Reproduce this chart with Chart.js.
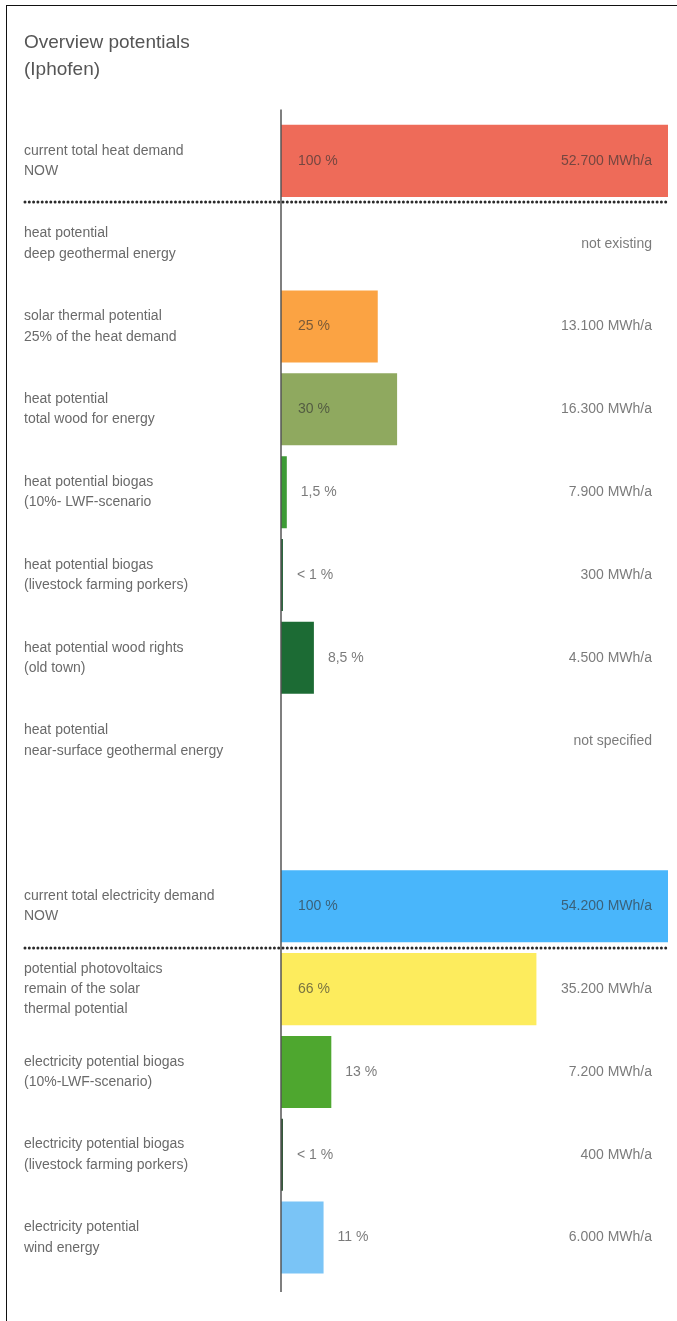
<!DOCTYPE html>
<html>
<head>
<meta charset="utf-8">
<title>Overview potentials (Iphofen)</title>
<script src="https://cdn.jsdelivr.net/npm/chart.js@4.4.1/dist/chart.umd.min.js"></script>
<style>
  html,body{margin:0;padding:0;background:#fff;overflow:hidden;}
  .frame{position:absolute;left:6px;top:5px;width:700px;height:1340px;border:1.5px solid #111;box-sizing:border-box;}
  .wrap{position:absolute;left:0;top:0;width:677px;height:1321px;}
</style>
</head>
<body>
<div class="frame"></div>
<div class="wrap"><canvas id="potChart"></canvas></div>
<script>
// rows, top to bottom ('' = gap between the heat and electricity blocks)
const categories = [
  ['current total heat demand','NOW'],
  ['heat potential','deep geothermal energy'],
  ['solar thermal potential','25% of the heat demand'],
  ['heat potential','total wood for energy'],
  ['heat potential biogas','(10%- LWF-scenario'],
  ['heat potential biogas','(livestock farming porkers)'],
  ['heat potential wood rights','(old town)'],
  ['heat potential','near-surface geothermal energy'],
  '',
  ['current total electricity demand','NOW'],
  ['potential photovoltaics','remain of the solar','thermal potential'],
  ['electricity potential biogas','(10%-LWF-scenario)'],
  ['electricity potential biogas','(livestock farming porkers)'],
  ['electricity potential','wind energy']
];
const shares = [100, null, 25, 30, 1.5, 0.5, 8.5, null, null, 100, 66, 13, 0.5, 11];
const shareLabels = ['100 %','','25 %','30 %','1,5 %','< 1 %','8,5 %','','','100 %','66 %','13 %','< 1 %','11 %'];
const amountLabels = ['52.700 MWh/a','not existing','13.100 MWh/a','16.300 MWh/a','7.900 MWh/a','300 MWh/a',
  '4.500 MWh/a','not specified','','54.200 MWh/a','35.200 MWh/a','7.200 MWh/a','400 MWh/a','6.000 MWh/a'];
const dividerAfter = [0, 9];

const barColors = ['#ee6b59','#fff','#fba343','#8fa95f','#3d9b35','#1f5f33','#1c6b34','#fff','#fff',
  '#49b6fb','#fdec5d','#4ea72f','#274f2e','#7ac4f6'];

const FONT = '"Liberation Sans", Arial, Helvetica, sans-serif';

const extras = {
  id:'extras',
  afterDatasetsDraw(chart){
    const {ctx, chartArea, scales:{x, y}} = chart;
    const x0 = x.getPixelForValue(0);
    ctx.save();
    // axis line
    ctx.strokeStyle = '#555';
    ctx.lineWidth = 1.5;
    ctx.beginPath();
    ctx.moveTo(x0, chartArea.top - 10);
    ctx.lineTo(x0, chartArea.bottom + 13);
    ctx.stroke();
    // dotted separators
    ctx.strokeStyle = '#2a2a2a';
    ctx.lineWidth = 3;
    ctx.lineCap = 'round';
    ctx.setLineDash([0, 4.3]);
    dividerAfter.forEach(i=>{
      const yy = Math.round((y.getPixelForValue(i) + y.getPixelForValue(i+1)) / 2);
      ctx.beginPath();
      ctx.moveTo(25, yy);
      ctx.lineTo(chartArea.right, yy);
      ctx.stroke();
    });
    ctx.setLineDash([]);
    // value texts
    ctx.font = '14px ' + FONT;
    ctx.fillStyle = 'rgba(50,50,50,0.65)';
    ctx.textBaseline = 'middle';
    categories.forEach((c, i)=>{
      const yy = y.getPixelForValue(i);
      if(shareLabels[i]){
        const end = x.getPixelForValue(shares[i] || 0);
        const inside = end - x0 > 60;
        ctx.textAlign = 'left';
        ctx.fillText(shareLabels[i], inside ? x0 + 17 : Math.max(x0 + 16, end + 14), yy);
      }
      if(amountLabels[i]){
        ctx.textAlign = 'right';
        ctx.fillText(amountLabels[i], chartArea.right - 16, yy);
      }
    });
    ctx.restore();
  }
};

new Chart(document.getElementById('potChart'), {
  type:'bar',
  data:{
    labels:categories,
    datasets:[{ data:shares, backgroundColor:barColors, borderWidth:0, barPercentage:0.87, categoryPercentage:1 }]
  },
  options:{
    indexAxis:'y',
    responsive:true,
    maintainAspectRatio:false,
    animation:false,
    layout:{ padding:{ left:24, right:9, top:0, bottom:42 } },
    scales:{
      x:{ type:'linear', min:0, max:100, display:false },
      y:{
        grid:{ display:false },
        border:{ display:false },
        afterFit(s){ s.width = 257; },
        ticks:{ autoSkip:false, crossAlign:'far', color:'#6a6a6a', font:{ family:FONT, size:14, lineHeight:1.45 } }
      }
    },
    plugins:{
      legend:{ display:false },
      tooltip:{ enabled:false },
      title:{
        display:true, align:'start',
        text:['Overview potentials','(Iphofen)'],
        color:'#555',
        font:{ family:FONT, size:19, weight:'normal', lineHeight:1.42 },
        padding:{ top:29.5, bottom:36 }
      }
    }
  },
  plugins:[extras]
});
</script>
</body>
</html>
